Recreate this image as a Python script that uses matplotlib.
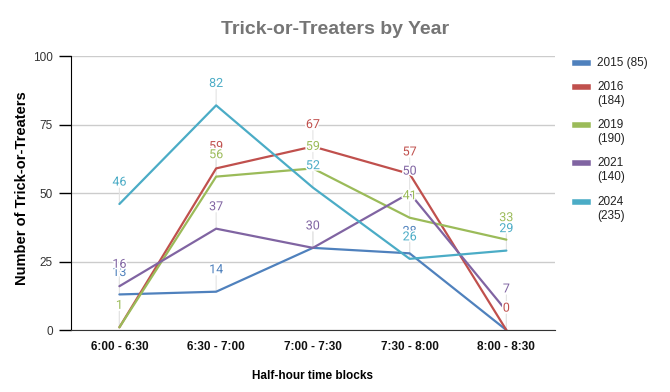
import matplotlib
matplotlib.use("Agg")
import matplotlib.pyplot as plt
import matplotlib.patheffects as pe
from matplotlib.lines import Line2D

# data
time_blocks = ["6:00 - 6:30", "6:30 - 7:00", "7:00 - 7:30", "7:30 - 8:00", "8:00 - 8:30"]
years = ["2015", "2016", "2019", "2021", "2024"]
totals = [85, 184, 190, 140, 235]
y2015 = [13, 14, 30, 28, 0]
y2016 = [1, 59, 67, 57, 0]
y2019 = [1, 56, 59, 41, 33]
y2021 = [16, 37, 30, 50, 7]
y2024 = [46, 82, 52, 26, 29]
series = [y2015, y2016, y2019, y2021, y2024]
colors = ["#4f81bd", "#c0504d", "#9bbb59", "#8064a2", "#4bacc6"]
yticks = [0, 25, 50, 75, 100]

plt.rcParams['font.family'] = ['Liberation Sans', 'DejaVu Sans']

fig = plt.figure(figsize=(6.7, 3.92), dpi=100)
ax = fig.add_axes([0.106, 0.158, 0.722, 0.699])

halo = [pe.withStroke(linewidth=2.2, foreground='white')]
x = list(range(len(time_blocks)))
for vals, c in zip(series, colors):
    ax.plot(x, vals, color=c, lw=1.6, zorder=3, solid_capstyle='round')
    for xi, v in zip(x, vals):
        # faint leader line, behind the series lines
        ax.annotate('', (xi, v), xytext=(0, 11.5), textcoords='offset points',
                    arrowprops=dict(arrowstyle='-', color='#e3e3e3', lw=0.8,
                                    shrinkA=0, shrinkB=0), zorder=2)
        ax.annotate(str(v), (xi, v), xytext=(0, 15.8), textcoords='offset points',
                    ha='center', va='center', color=c, fontsize=9, family='Roboto',
                    zorder=10, path_effects=halo)

ax.set_xlim(-0.5, len(time_blocks) - 0.5)
ax.set_ylim(0, 100)
ax.set_xticks(x)
ax.set_xticklabels(time_blocks, fontsize=8.5, fontweight='bold', color='#111111')
ax.set_yticks(yticks)
ax.set_yticklabels([str(t) for t in yticks], fontsize=8.5, color='#333333')
ax.tick_params(axis='x', length=0, pad=8)
ax.tick_params(axis='y', length=9, width=1, color='black', pad=4)
ax.grid(axis='y', color='#cccccc', lw=1, zorder=0)
ax.set_axisbelow(True)
for s in ['top', 'right']:
    ax.spines[s].set_visible(False)
ax.spines['left'].set_color('black')
ax.spines['bottom'].set_color('#333333')
ax.spines['left'].set_zorder(5)
ax.spines['bottom'].set_zorder(5)

ax.set_xlabel("Half-hour time blocks", fontsize=8.5, fontweight='bold', labelpad=12)
fig.text(0.033, 0.52, "Number of Trick-or-Treaters", rotation=90, fontsize=10.5,
         fontweight='bold', ha='center', va='center')
fig.text(0.5, 1 - 29 / 392, "Trick-or-Treaters by Year", fontsize=14, fontweight='bold',
         color='#757575', ha='center', va='center')

# legend on the right, patch aligned with the first text line
legend_rows = [63, 87, 125, 163, 202]
for yr, tot, c, row in zip(years, totals, colors, legend_rows):
    yf = 1 - row / 392
    fig.add_artist(Line2D([575 / 670, 588 / 670], [yf, yf], color=c, lw=4,
                          transform=fig.transFigure))
    label = f"{yr} ({tot})" if yr == "2015" else f"{yr}\n({tot})"
    fig.text(597 / 670, yf + 6 / 392, label, fontsize=8.5, color='#222222',
             ha='left', va='top', linespacing=1.25)

fig.savefig("out.png", dpi=100)
